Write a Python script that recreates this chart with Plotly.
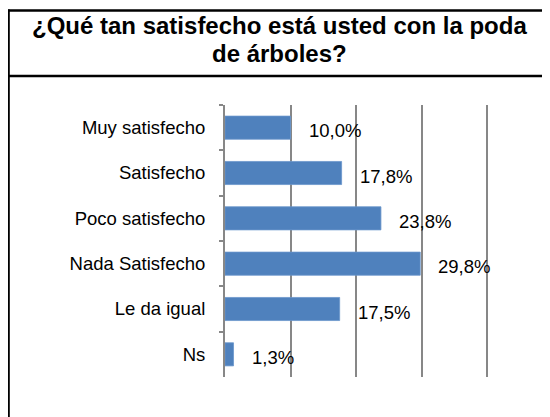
import plotly.graph_objects as go

categories = ["Muy satisfecho", "Satisfecho", "Poco satisfecho", "Nada Satisfecho", "Le da igual", "Ns"]
values = [10.0, 17.8, 23.8, 29.8, 17.5, 1.3]
title_lines = ["¿Qué tan satisfecho está usted con la poda", "de árboles?"]

# the page body has an 8px default margin; size the figure so it fills the window
OFF = 8
XMAX = 40.6
W, H = 550 - OFF, 417 - OFF
L, T = 225 - OFF, 105 - OFF
PW, PH = round(262 * XMAX / 40), 272
R, B = W - L - PW, H - T - PH

def px(x):
    """page pixel x -> paper coordinate"""
    return (x - OFF - L) / PW

def py(y):
    """page pixel y -> paper coordinate"""
    return 1 - (y - OFF - T) / PH

FONT = "Liberation Sans, Arial, sans-serif"
GRID = "#878787"

fig = go.Figure(go.Bar(
    x=values, y=categories, orientation="h",
    marker=dict(color="#4F81BD", line=dict(color="#6a96cc", width=0.8)),
    hoverinfo="skip",
))

annotations = []
for c, v in zip(categories, values):
    annotations.append(dict(
        x=v, y=c, xref="x", yref="y", text=f"{v:.1f}".replace(".", ",") + "%",
        showarrow=False, xanchor="left", yanchor="middle", xshift=16, yshift=-3,
        font=dict(family=FONT, size=18.5, color="#000000"),
    ))

title_y = [26, 53]
for t, yy in zip(title_lines, title_y):
    annotations.append(dict(
        x=px(279), y=py(yy), xref="paper", yref="paper", text=f"<b>{t}</b>",
        showarrow=False, xanchor="center", yanchor="middle",
        font=dict(family=FONT, size=24, color="#000000"),
    ))

shapes = [
    dict(type="line", xref="paper", yref="paper", x0=px(8), x1=px(560), y0=py(10.5), y1=py(10.5),
         line=dict(color="#000000", width=2.5)),
    dict(type="line", xref="paper", yref="paper", x0=px(8), x1=px(560), y0=py(76), y1=py(76),
         line=dict(color="#000000", width=2.5)),
    dict(type="line", xref="paper", yref="paper", x0=px(8.8), x1=px(8.8), y0=py(9.5), y1=py(430),
         line=dict(color="#000000", width=2)),
]

fig.update_layout(
    width=W, height=H,
    margin=dict(l=L, r=R, t=T, b=B),
    paper_bgcolor="#ffffff", plot_bgcolor="#ffffff",
    showlegend=False,
    bargap=0.49,
    annotations=annotations,
    shapes=shapes,
    font=dict(family=FONT, color="#000000"),
)

fig.update_xaxes(
    range=[0, XMAX], tickmode="linear", tick0=0, dtick=10, showticklabels=False, showgrid=True,
    gridcolor=GRID, gridwidth=2, zeroline=False, showline=False, ticks="",
    fixedrange=True,
)
fig.update_yaxes(
    autorange="reversed", showline=True, linecolor=GRID, linewidth=2,
    ticks="outside", tickson="boundaries", ticklen=4, tickcolor=GRID, tickwidth=1.5,
    tickfont=dict(family=FONT, size=18.5, color="#000000"),
    ticklabelstandoff=14, showgrid=False, fixedrange=True,
)

fig.write_html("out.html")
